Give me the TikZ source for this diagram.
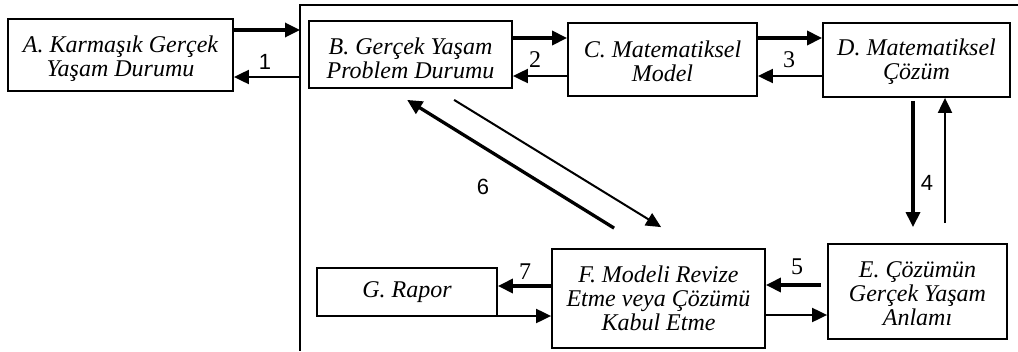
\documentclass[tikz,border=0pt]{standalone}
\usepackage{fontspec}
\setmainfont{Liberation Serif}
\newfontfamily\lsans{Liberation Sans}
\usetikzlibrary{arrows.meta,calc}
\newcommand\topstrut[1]{\rule{0pt}{#1}}
\begin{document}
\begin{tikzpicture}[x=1pt,y=-1pt,
  box/.style={draw, line width=1.8pt, rectangle, align=center, inner sep=0pt,
    font=\fontsize{24}{23.8}\selectfont\itshape},
  thickarr/.style={line width=3.3pt, -{Triangle[length=15pt,width=14pt]}},
  thinarr/.style={line width=2pt, -{Triangle[length=15pt,width=14pt]}},
  lbl/.style={inner sep=0pt, font=\fontsize{24}{24}\selectfont},
  lbls/.style={inner sep=0pt, font=\fontsize{22}{24}\selectfont\lsans},
  frame/.style={line width=1.8pt}]
\useasboundingbox (0,0) rectangle (1018,351);
% frame
\coordinate (fR) at (1018,5);
\coordinate (fC) at (300,5);
\coordinate (fB) at (300,351);
\draw[frame] (fR) -- (fC) -- (fB);
% boxes
\node[box, minimum width=225pt, minimum height=72pt] (A) at (120.5,55) {\topstrut{24pt}A. Karmaşık Gerçek\\Yaşam Durumu};
\node[box, minimum width=203pt, minimum height=67pt] (B) at (410.5,54.5) {\topstrut{24pt}B. Gerçek Yaşam\\Problem Durumu};
\node[box, minimum width=189pt, minimum height=73pt] (C) at (662.5,59.5) {\topstrut{20pt}C. Matematiksel\\Model};
\node[box, minimum width=187pt, minimum height=74pt] (D) at (916.5,60) {\topstrut{20pt}D. Matematiksel\\Çözüm};
\node[box, minimum width=179pt, minimum height=95pt] (E) at (917.5,291.5) {\topstrut{20pt}E. Çözümün\\Gerçek Yaşam\\Anlamı};
\node[box, minimum width=213pt, minimum height=99pt] (F) at (658.5,298.5) {F. Modeli Revize\\Etme veya Çözümü\\Kabul Etme};
\node[box, minimum width=180pt, minimum height=48pt] (G) at (407,292) {G. Rapor};
% helper levels
\coordinate (f1a) at (300,30);
\coordinate (f1b) at (300,77);
\coordinate (y38) at (0,38);
\coordinate (y76) at (0,76);
\coordinate (x913) at (913,0);
\coordinate (x945) at (945,0);
\coordinate (y285) at (0,285);
\coordinate (y315) at (0,315);
\coordinate (y286) at (0,286);
\coordinate (y316) at (0,316);
% 1
\draw[thickarr] (A.east |- f1a) -- (f1a);
\draw[thinarr] (f1b) -- (A.east |- f1b);
% 2
\draw[thickarr] (B.east |- y38) -- (C.west |- y38);
\draw[thinarr] (C.west |- y76) -- (B.east |- y76);
% 3
\draw[thickarr] (C.east |- y38) -- (D.west |- y38);
\draw[thinarr] (D.west |- y76) -- (C.east |- y76);
% 4
\draw[thickarr] ($(D.south -| x913)+(0,3)$) -- ($(E.north -| x913)+(0,-16)$);
\draw[thinarr] ($(E.north -| x945)+(0,-20)$) -- (D.south -| x945);
% 5
\draw[thickarr] ($(E.west |- y285)+(-6,0)$) -- (F.east |- y285);
\draw[thinarr] (F.east |- y315) -- (E.west |- y315);
% 7
\draw[thickarr] (F.west |- y286) -- (G.east |- y286);
\draw[thinarr] (G.east |- y316) -- (F.west |- y316);
% 6
\draw[thickarr] ($(F.north west)+(63,-20)$) -- ($(B.south west)+(99,11)$);
\draw[thinarr] ($(B.south west)+(146,11)$) -- ($(F.north west)+(110,-21)$);
% labels
\node[lbls] (l1) at (265,62) {1};
\node[lbl] (l2) at (535,60) {2};
\node[lbl] (l3) at (789,60) {3};
\node[lbls] (l4) at (927,183) {4};
\node[lbl] (l5) at (797,267) {5};
\node[lbls] (l6) at (483,187) {6};
\node[lbl] (l7) at (525,272) {7};
\end{tikzpicture}
\end{document}
